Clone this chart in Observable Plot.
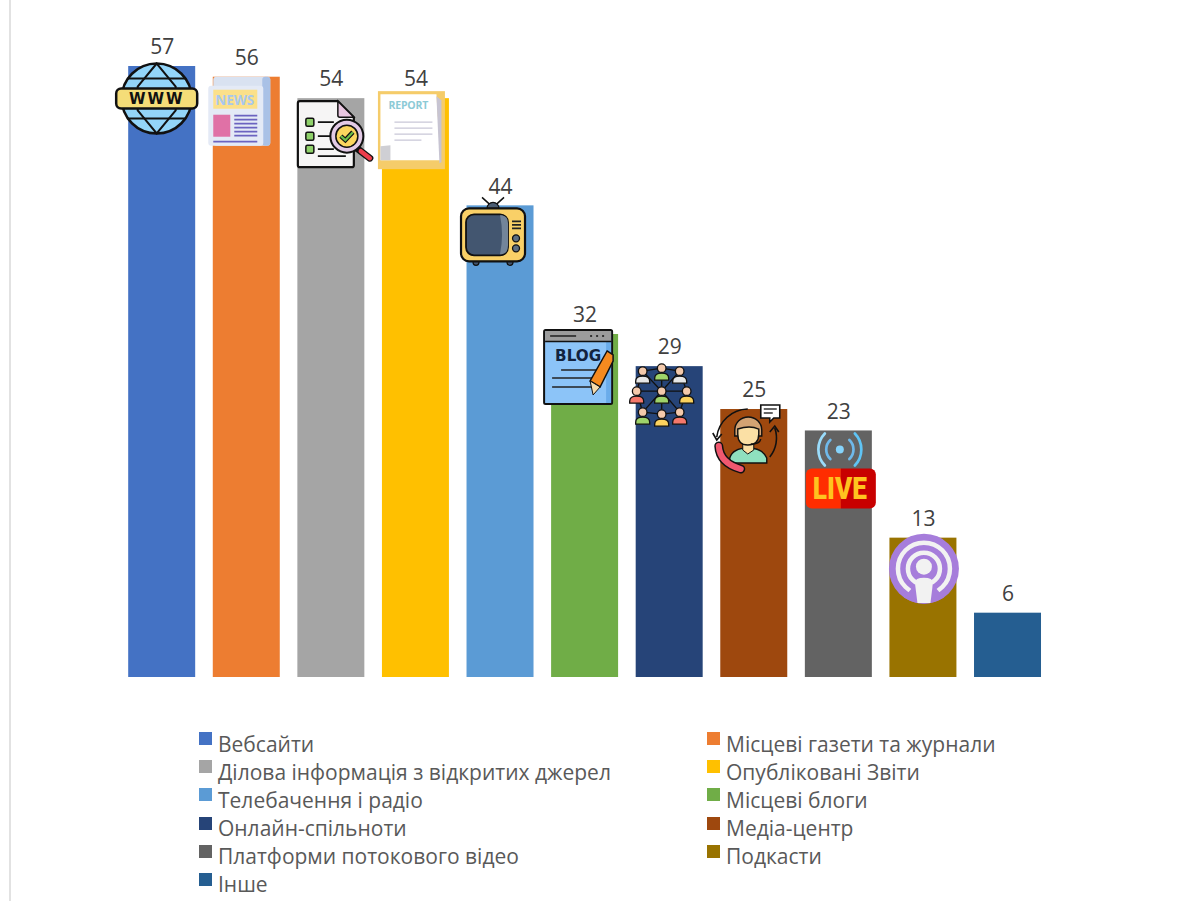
<!DOCTYPE html>
<html><head><meta charset="utf-8">
<script src="https://cdn.jsdelivr.net/npm/d3@7"></script>
<script src="https://cdn.jsdelivr.net/npm/@observablehq/plot@0.6"></script>
<style>
html,body{margin:0;padding:0;background:#fff;overflow:hidden}
#wrap{position:relative;width:1199px;height:901px}
#edge{position:absolute;left:9px;top:0;bottom:0;width:2px;background:#e2e2e2}
#chart svg{display:block}
#legend{position:absolute;left:199px;top:729.5px;display:grid;grid-template-columns:508px auto;grid-auto-rows:28.2px;font-family:"Open Sans",sans-serif;font-size:21px;color:#595959;line-height:28px}
#legend div{position:relative;padding-left:19px;white-space:nowrap}
#legend i{position:absolute;left:0;top:2.5px;width:13px;height:13px}
</style></head><body>
<div id="wrap"><div id="edge"></div><div id="chart"></div><div id="legend"></div></div>
<script>
const categories = ["Вебсайти","Місцеві газети та журнали","Ділова інформація з відкритих джерел","Опубліковані Звіти","Телебачення і радіо","Місцеві блоги","Онлайн-спільноти","Медіа-центр","Платформи потокового відео","Подкасти","Інше"];
const values = [57,56,54,54,44,32,29,25,23,13,6];
const colors = ["#4472C4","#ED7D31","#A5A5A5","#FFC000","#5B9BD5","#70AD47","#264478","#9E480E","#636363","#997300","#255E91"];

const person = (x,y,c)=>`<path d="M${x-7} ${y+12}v-2q0-5 7-5t7 5v2z" fill="${c}" stroke="#111" stroke-width="1.3"/><circle cx="${x}" cy="${y}" r="4.3" fill="#f3c9ab" stroke="#111" stroke-width="1.3"/>`;

const icons = [
 {i:0,dx:-5,dy:32.5,svg:`
  <circle r="35" fill="#93d5f9" stroke="#111" stroke-width="2.5"/>
  <path d="M-29-20H29M-29 20H29" stroke="#111" stroke-width="2"/>
  <path d="M0-35L-19-12V12L0 35L19 12V-12Z" fill="none" stroke="#111" stroke-width="2"/>
  <rect x="-40.5" y="-10" width="81" height="20" rx="5" fill="#f5dd78" stroke="#111" stroke-width="2.5"/>
  <text y="5.5" text-anchor="middle" font-family="DejaVu Sans,sans-serif" font-weight="700" font-size="15" letter-spacing="2" fill="#111">WWW</text>`},
 {i:1,dx:0,dy:0,svg:`
  <rect x="-33" y="0" width="57" height="69" rx="3" fill="#d9e2f1"/>
  <rect x="16" y="0" width="8" height="69" rx="3" fill="#a9c1e6"/>
  <rect x="-38" y="9" width="55" height="60" rx="3" fill="#e4eaf6"/>
  <rect x="-33" y="13" width="44" height="19" fill="#fbe08a"/>
  <text x="-11.5" y="28" text-anchor="middle" font-family="Open Sans,sans-serif" font-weight="700" font-size="15" textLength="39" lengthAdjust="spacingAndGlyphs" fill="#a9c8ee">NEWS</text>
  <rect x="-33" y="38" width="17" height="22" fill="#e071a6"/>
  <path d="M-12 39H11M-12 43H11M-12 47H11M-12 51H11M-12 55H11M-12 59H11M-33 65H11" stroke="#6b63c0" stroke-width="1.8"/>`},
 {i:2,dx:0,dy:0,svg:`
  <path d="M-31 3H7L23 19V67a2 2 0 0 1-2 2H-31a2 2 0 0 1-2-2V5a2 2 0 0 1 2-2Z" fill="#f6f5f5" stroke="#111" stroke-width="2.2"/>
  <path d="M7 3L23 19H9a2 2 0 0 1-2-2Z" fill="#e8c6e0" stroke="#111" stroke-width="1.5"/>
  <g fill="#8fd16a" stroke="#111" stroke-width="1.5"><rect x="-25" y="20" width="8" height="8" rx="1.5"/><rect x="-25" y="34" width="8" height="8" rx="1.5"/><rect x="-25" y="47" width="8" height="8" rx="1.5"/></g>
  <path d="M-13 24H3M-13 38H0M-13 51H3M-13 58H15" stroke="#111" stroke-width="1.6"/>
  <path d="M26 50L39 60" stroke="#111" stroke-width="7" stroke-linecap="round"/><path d="M30 53L39 60" stroke="#ee3d4c" stroke-width="4.5" stroke-linecap="round"/>
  <circle cx="16" cy="38" r="16.5" fill="#e3cbe6" stroke="#111" stroke-width="2"/>
  <circle cx="16" cy="38" r="11" fill="#fbd75f" stroke="#111" stroke-width="1.5"/>
  <path d="M10 38L14.5 42L22 34" fill="none" stroke="#111" stroke-width="4.5"/><path d="M10 38L14.5 42L22 34" fill="none" stroke="#6cc04a" stroke-width="2.2"/>`},
 {i:3,dx:-4,dy:0,svg:`
  <rect x="-33.5" y="-7" width="67" height="78" fill="#f5cc6a"/>
  <path d="M-31-4H25L29 62H-31Z" fill="#fff"/>
  <path d="M-31 48L-21 47V62H-31Z" fill="#cfcfd4"/>
  <path d="M25-2L30 2V64L28 65Z" fill="#c7c4d2"/>
  <text x="-3" y="11" text-anchor="middle" font-family="Open Sans,sans-serif" font-weight="700" font-size="10.5" textLength="40" fill="#8ccad6">REPORT</text>
  <path d="M-17 24H21M-17 30H21M-17 36H21M-17 42H10" stroke="#c9c8d8" stroke-width="1.4"/>`},
 {i:4,dx:-7,dy:29,svg:`
  <path d="M0-27L-11-37M0-27L11-37" stroke="#111" stroke-width="1.5"/>
  <path d="M-6-26a6 6 0 0 1 12 0Z" fill="#4b5d73" stroke="#111" stroke-width="1.2"/>
  <circle cx="-17" cy="28" r="3" fill="#435670" stroke="#111" stroke-width="1.2"/><circle cx="17" cy="28" r="3" fill="#435670" stroke="#111" stroke-width="1.2"/>
  <rect x="-32" y="-26" width="64" height="53" rx="8" fill="#f9d067" stroke="#111" stroke-width="2.2"/>
  <rect x="-27" y="-20" width="42" height="41" rx="8" fill="#435670" stroke="#111" stroke-width="1.8"/>
  <path d="M7-19h2q6 1 6 8v22q0 8-6 9h-2q4-20 0-39z" fill="#73859a"/>
  <path d="M19-13H28M19-9.5H28M19-6H28" stroke="#222" stroke-width="1.6"/>
  <g fill="#5d6e82" stroke="#111" stroke-width="1.3"><circle cx="23" cy="4" r="3.5"/><circle cx="23" cy="14" r="3.5"/></g>`},
 {i:5,dx:-6.5,dy:33,svg:`
  <rect x="-34" y="-37" width="68" height="74" rx="1.5" fill="#8cc4f8" stroke="#111" stroke-width="2"/>
  <path d="M28-25H33V36H28Z" fill="#6aacea"/>
  <path d="M-33-36H33V-26H-33Z" fill="#9c9c9c"/>
  <path d="M-33-25.5H33" stroke="#111" stroke-width="1.5"/>
  <path d="M-28-31H-2" stroke="#333" stroke-width="1.8"/><path d="M12-31H14M18-31H20M24-31H26" stroke="#333" stroke-width="2"/>
  <text x="0" y="-6" text-anchor="middle" font-family="DejaVu Sans,sans-serif" font-weight="700" font-size="15" textLength="46" lengthAdjust="spacingAndGlyphs" fill="#12233f">BLOG</text>
  <path d="M-17 3H20M-26 11H15M-26 20H13" stroke="#222" stroke-width="1.6"/>
  <path d="M29-16L35-12V-6L22 20L12 14Z" fill="#f58a1f" stroke="#111" stroke-width="1.5"/>
  <path d="M12 14L22 20L15 28Z" fill="#f6dcae" stroke="#111" stroke-width="1"/>`},
 {i:6,dx:-7.5,dy:4,svg:`
  <path d="M-19 1L0-2L18 1M-25 21H25M-19 42L0 44L18 42M-19 1L0 21L18 1M-19 42L0 21L18 42M0-2V44M-25 21L-19 1M25 21L18 1M-25 21L-19 42M25 21L18 42" fill="none" stroke="#111" stroke-width="1.4"/>
  ${person(-19,1,"#e6e6e6")}${person(0,-2,"#9ed36a")}${person(18,1,"#e6e6e6")}
  ${person(-25,21,"#f5786b")}${person(0,21,"#9ed36a")}${person(25,21,"#fbd25e")}
  ${person(-19,42,"#9ed36a")}${person(0,44,"#fbd25e")}${person(18,42,"#f5786b")}`},
 {i:7,dx:-6,dy:24,svg:`
  <path d="M-31 4A32 32 0 0 1 0-24" fill="none" stroke="#111" stroke-width="1.6"/>
  <path d="M-35 0L-31 7L-26 1" fill="none" stroke="#111" stroke-width="1.6"/>
  <path d="M22 24A30 30 0 0 0 27-5" fill="none" stroke="#111" stroke-width="1.6"/>
  <path d="M22-1L27-7L31-1" fill="none" stroke="#111" stroke-width="1.6"/>
  <path d="M-18 30V25Q-15 15 0 15T19 25V30Z" fill="#8fe0bf" stroke="#111" stroke-width="1.4"/>
  <path d="M-5 10H6V17L0 21L-5 17Z" fill="#fbe0a5" stroke="#111" stroke-width="1"/>
  <path d="M-13-3A13.500 13 0 0 1 14-3V3H-13Z" fill="#d3a373" stroke="#111" stroke-width="1.400"/>
  <path d="M-10-4Q2-8 11-4V1Q11 12 0 12Q-10 12-10 1Z" fill="#fbe0a5" stroke="#111" stroke-width="1.4"/>
  <path d="M-29 13Q-28 30-7 36" fill="none" stroke="#111" stroke-width="9" stroke-linecap="round"/>
  <path d="M-29 13Q-28 30-7 36" fill="none" stroke="#f0586f" stroke-width="6" stroke-linecap="round"/>
  <path d="M13 6Q12 11 3 11" fill="none" stroke="#111" stroke-width="1.4"/>
  <path d="M13-28H32V-15H26L22-11V-15H13Z" fill="#fff" stroke="#111" stroke-width="1.6"/>
  <path d="M16-24H29M16-20H25" stroke="#333" stroke-width="1.500"/>`},
 {i:8,dx:1.5,dy:19,svg:`
  <g fill="none" stroke-width="2.7" stroke-linecap="round">
   <path d="M-9.5-9.5A13 13 0 0 0 -9.500 9.500" stroke="#6fb9ea"/><path d="M9.5-9.5A13 13 0 0 1 9.500 9.500" stroke="#6fb9ea"/>
   <path d="M-15-16A23 23 0 0 0 -15 16" stroke="#9adcfb"/><path d="M15-16A23 23 0 0 1 15 16" stroke="#5fc4f5"/></g>
  <circle r="4" fill="#85d3fb"/>
  <path d="M1 19H-28a6 6 0 0 0-6 6V53a6 6 0 0 0 6 6H1Z" fill="#ff2d00"/>
  <path d="M1 19H30a6 6 0 0 1 6 6V53a6 6 0 0 1-6 6H1Z" fill="#c80000"/>
  <text x="0" y="50" text-anchor="middle" font-family="Roboto,sans-serif" font-weight="900" font-size="32" textLength="54" lengthAdjust="spacingAndGlyphs" fill="#ffc31f">LIVE</text>`},
 {i:9,dx:1,dy:31,svg:`
  <circle r="35" fill="#a67ddb"/>
  <circle r="26" fill="none" stroke="#f2f2f2" stroke-width="4.5"/>
  <circle r="16" fill="none" stroke="#f2f2f2" stroke-width="4.5"/>
  <path d="M-20 28.700L0 6L20 28.700A35 35 0 0 1-20 28.700Z" fill="#a67ddb"/>
  <circle cy="-2" r="8" fill="#f2f2f2"/>
  <path d="M-9 14Q-9 9 0 9T9 14L6.500 34.400H-6.500Z" fill="#f2f2f2"/>`}
];

const iconMark = ic => (index, scales) => {
  const g = d3.create("svg:g");
  const c = categories[ic.i];
  const bw = typeof scales.x.bandwidth === "function" ? scales.x.bandwidth() : scales.x.bandwidth;
  g.attr("transform", `translate(${scales.x(c) + bw / 2 + ic.dx},${scales.y(values[ic.i]) + ic.dy})`);
  g.html(ic.svg);
  return g.node();
};

const table = categories.map((c,i)=>({category:c,value:values[i]}));
const plot = Plot.plot({
  width:1199, height:720, margin:0,
  style:{fontFamily:'"Open Sans",sans-serif',background:"transparent",overflow:"visible"},
  x:{domain:categories,range:[110.6,1058.6],padding:0.208,round:false,axis:null},
  y:{domain:[0,57],range:[677,66],axis:null},
  color:{domain:categories,range:colors},
  marks:[
    Plot.barY(table,{x:"category",y:"value",fill:"category"}),
    ...icons.map(iconMark),
    Plot.text(table,{x:"category",y:"value",text:d=>String(d.value),dy:-19,fontSize:21,fill:"#404040"})
  ]
});
document.getElementById("chart").append(plot);
const legend = d3.select("#legend");
categories.forEach((c,i)=>{
  const d = legend.append("div");
  d.append("i").style("background",colors[i]);
  d.append("span").text(c);
});
</script></body></html>
